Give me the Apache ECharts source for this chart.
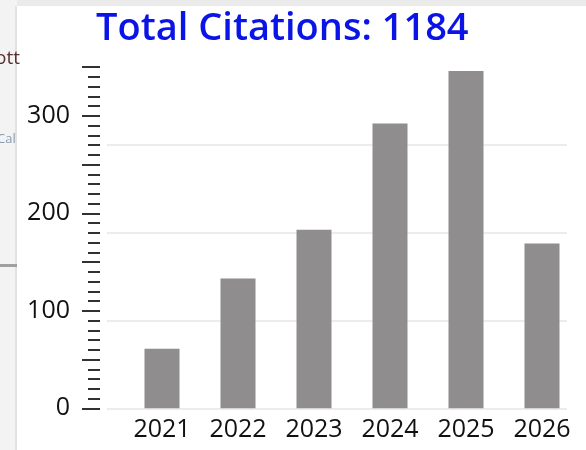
<!DOCTYPE html>
<html>
<head>
<meta charset="utf-8">
<script src="https://cdn.jsdelivr.net/npm/echarts@6/dist/echarts.min.js"></script>
<style>
  html, body { margin: 0; padding: 0; background: #fff; }
  #chart { width: 586px; height: 450px; }
</style>
</head>
<body>
<div id="chart"></div>
<script>
// data
const years = ['2021', '2022', '2023', '2024', '2025', '2026'];
const citations = [61, 133, 183, 292, 346, 169];
const yTickLabels = [0, 100, 200, 300];
const totalCitations = 1184;

const FONT = '"Open Sans", "Noto Sans", sans-serif';

const myChart = echarts.init(document.getElementById('chart'));

const option = {
  animation: false,
  backgroundColor: '#fff',
  title: {
    text: 'Total Citations: ' + totalCitations,
    left: 91,
    top: 5,
    textStyle: { color: '#0a14e6', fontSize: 38, fontWeight: 600, fontFamily: FONT }
  },
  // screenshot frame bits round the chart
  graphic: [
    { type: 'rect', shape: { x: 0, y: 0, width: 586, height: 6 }, style: { fill: '#ebebeb' }, silent: true },
    { type: 'rect', shape: { x: 0, y: 0, width: 17, height: 450 }, style: { fill: '#f3f3f3' }, silent: true },
    { type: 'rect', shape: { x: 15, y: 6, width: 2, height: 444 }, style: { fill: '#e2e2e2' }, silent: true },
    { type: 'rect', shape: { x: 0, y: 264, width: 17, height: 3 }, style: { fill: '#a0a0a0' }, silent: true },
    { type: 'text', x: -5, y: 49, style: { text: 'ott', fill: '#5a3030', fontSize: 19, fontFamily: FONT } },
    { type: 'text', x: -3, y: 133, style: { text: 'Cal', fill: '#8a9ab0', fontSize: 13, fontFamily: FONT } }
  ],
  grid: [
    { left: 124, right: 6, top: 67, bottom: 41.7 },
    { left: 107, right: 19, top: 145, bottom: 41.7 }
  ],
  xAxis: [
    {
      type: 'category',
      gridIndex: 0,
      data: years,
      axisLine: { show: false },
      axisTick: { show: false },
      axisLabel: { color: '#111', fontSize: 25, fontFamily: FONT, margin: 9 }
    },
    { type: 'value', gridIndex: 1, show: false }
  ],
  yAxis: [
    {
      type: 'value',
      gridIndex: 0,
      min: 0,
      max: 350,
      interval: 50,
      offset: 24,
      axisLine: { show: false },
      axisTick: { show: true, length: 18, lineStyle: { color: '#1a1a1a', width: 1.8 } },
      minorTick: { show: true, splitNumber: 5, length: 12, lineStyle: { color: '#1a1a1a', width: 1.8 } },
      splitLine: { show: false },
      axisLabel: {
        color: '#111',
        fontSize: 25,
        fontFamily: FONT,
        margin: 30,
        formatter: (v) => (yTickLabels.includes(v) ? String(v) : '')
      }
    },
    {
      // faint grid lines of the original panel
      type: 'value',
      gridIndex: 1,
      min: 0,
      max: 3,
      interval: 1,
      axisLine: { show: false },
      axisTick: { show: false },
      axisLabel: { show: false },
      splitLine: { show: true, lineStyle: { color: '#e6e6e6', width: 1.5 } }
    }
  ],
  series: [
    {
      type: 'bar',
      xAxisIndex: 0,
      yAxisIndex: 0,
      barWidth: 35,
      itemStyle: { color: '#8f8d8d' },
      data: citations,
      z: 3
    }
  ]
};

myChart.setOption(option);
window.addEventListener('resize', () => myChart.resize());
</script>
</body>
</html>
